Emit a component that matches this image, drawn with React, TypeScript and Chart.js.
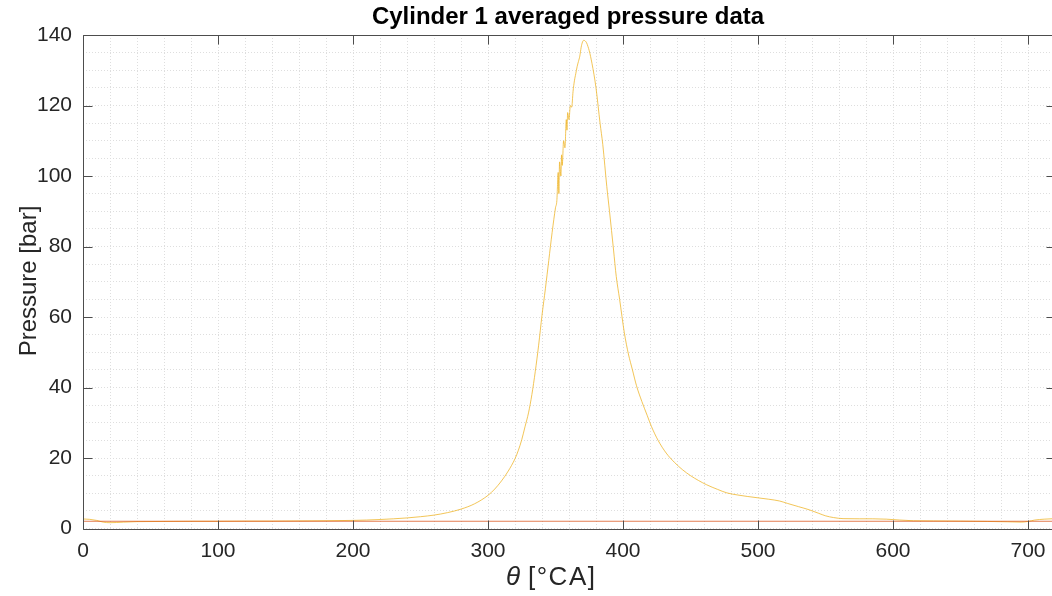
import React, { useEffect, useRef } from "react";
import { Chart, registerables } from "chart.js";

Chart.register(...registerables);

const TITLE = "Cylinder 1 averaged pressure data";
const Y_LABEL = "Pressure [bar]";
const X_LABEL_SYMBOL = "θ";
const X_LABEL_UNIT = "[°CA]";

const X_MIN = 0;
const X_MAX = 720;
const Y_MIN = 0;
const Y_MAX = 140;
const X_MAJOR = 100;
const X_MINOR = 20;
const Y_MAJOR = 20;
const Y_MINOR = 5;

// crank angle [°CA]
const theta = [
  0, 5, 10, 15, 20, 25, 30, 40, 60, 80, 100, 120, 140, 160, 180, 200, 210, 220, 230, 240,
  250, 260, 270, 280, 290, 300, 305, 310, 315, 320, 322.5, 325, 327.5, 330, 332.5, 335,
  337.5, 340, 342.5, 345, 347.5, 350,
  351, 352, 352.5, 353, 354, 354.5, 355, 356, 357, 358, 358.5, 359, 360, 361, 362, 363,
  364, 365, 366, 367, 368, 369, 370, 371, 372, 373, 374, 375, 377, 380, 383, 385, 388,
  390, 393, 395, 397.5, 401, 404, 407, 410, 414, 418, 421, 426, 432, 438, 444, 450, 456,
  462, 470, 477, 485, 492, 500, 508, 516, 522, 530, 538, 545, 550, 556, 563, 575, 585,
  595, 605, 615, 630, 650, 670, 685, 695, 700, 705, 712, 720,
];

// averaged cylinder pressure [bar]
const pressure = [
  2.7, 2.6, 2.3, 1.8, 1.65, 1.7, 1.8, 1.95, 2.0, 2.05, 2.05, 2.1, 2.1, 2.15, 2.2, 2.3, 2.4, 2.55, 2.75, 3.0,
  3.35, 3.8, 4.5, 5.5, 7.0, 9.4, 11.2, 13.5, 16.3, 19.8, 22.2, 25.2, 29, 32.8, 38, 44.5,
  52, 60.5, 68, 76, 84, 91,
  93, 101, 95, 104, 100, 106, 103, 110, 108, 116, 113, 118, 116, 120, 119.5, 124,
  127, 129, 131, 132.5, 134, 136.5, 138, 138.5, 138.3, 137.8, 136.8, 135.5, 132, 125, 115, 109, 97,
  90, 79, 71.5, 65, 55.5, 49.5, 45, 40.5, 36, 32, 29, 25, 21.4, 18.8, 16.7, 15, 13.6,
  12.4, 11.1, 10.1, 9.5, 9.1, 8.7, 8.3, 7.8, 7.1, 6.2, 5.3, 4.3, 3.6, 3.1, 2.8, 2.75, 2.75,
  2.65, 2.4, 2.2, 2.15, 2.1, 2.0, 1.9, 1.8, 2.0, 2.4, 2.65, 2.8,
];

// reference (intake) pressure line [bar]
const refTheta = [0, 720];
const refPressure = [2.05, 2.05];

const CURVE_COLOR = "rgba(237,177,32,0.75)";
const REF_COLOR = "rgba(217,83,25,0.75)";
const TEXT_COLOR = "#262626";
const FONT = "'Liberation Sans', Arial, Helvetica, sans-serif";

const overlayPlugin = {
  id: "matlabOverlay",
  afterDraw(chart: any) {
    const { ctx, chartArea } = chart;
    const xs = chart.scales.x;
    const ys = chart.scales.y;
    const l = Math.round(chartArea.left) + 0.5;
    const r = Math.round(chartArea.right) + 0.5;
    const t = Math.round(chartArea.top) + 0.5;
    const b = Math.round(chartArea.bottom) + 0.5;
    ctx.save();
    ctx.strokeStyle = "#4d4d4d";
    ctx.lineWidth = 1;
    ctx.beginPath();
    ctx.rect(l, t, r - l, b - t);
    ctx.stroke();
    const tl = 9;
    ctx.beginPath();
    for (let v = X_MIN; v <= X_MAX; v += X_MAJOR) {
      const px = Math.round(xs.getPixelForValue(v)) + 0.5;
      ctx.moveTo(px, b);
      ctx.lineTo(px, b - tl);
      ctx.moveTo(px, t);
      ctx.lineTo(px, t + tl);
    }
    for (let v = Y_MIN; v <= Y_MAX; v += Y_MAJOR) {
      const py = Math.round(ys.getPixelForValue(v)) + 0.5;
      ctx.moveTo(l, py);
      ctx.lineTo(l + tl, py);
      ctx.moveTo(r, py);
      ctx.lineTo(r - tl, py);
    }
    ctx.stroke();

    // title
    ctx.fillStyle = "#000";
    ctx.font = `bold 24px ${FONT}`;
    ctx.textAlign = "center";
    ctx.textBaseline = "middle";
    ctx.fillText(TITLE, 568, 17);

    // y label
    ctx.fillStyle = TEXT_COLOR;
    ctx.font = `24px ${FONT}`;
    ctx.save();
    ctx.translate(29, 281);
    ctx.rotate(-Math.PI / 2);
    ctx.textAlign = "center";
    ctx.textBaseline = "middle";
    ctx.fillText(Y_LABEL, 0, 0);
    ctx.restore();

    // x label: italic theta + unit
    ctx.textBaseline = "middle";
    ctx.textAlign = "left";
    ctx.font = `italic 26px ${FONT}`;
    ctx.fillText(X_LABEL_SYMBOL, 506, 578);
    ctx.font = `26px ${FONT}`;
    try {
      (ctx as any).letterSpacing = "1.5px";
    } catch (e) {}
    ctx.fillText(X_LABEL_UNIT, 528, 578);
    try {
      (ctx as any).letterSpacing = "0px";
    } catch (e) {}
    ctx.restore();
  },
};

export default function App() {
  const ref = useRef<HTMLCanvasElement | null>(null);

  useEffect(() => {
    if (!ref.current) return;
    const curve = theta.map((x, i) => ({ x, y: pressure[i] }));
    const refLine = refTheta.map((x, i) => ({ x, y: refPressure[i] }));
    const chart = new Chart(ref.current, {
      type: "line",
      data: {
        datasets: [
          {
            label: "reference",
            data: refLine,
            borderColor: REF_COLOR,
            borderWidth: 1,
            pointRadius: 0,
            tension: 0,
          },
          {
            label: "Cylinder 1",
            data: curve,
            borderColor: CURVE_COLOR,
            borderWidth: 1,
            pointRadius: 0,
            cubicInterpolationMode: "monotone",
          },
        ],
      },
      options: {
        animation: false,
        responsive: false,
        devicePixelRatio: 1,
        layout: { padding: { left: 0, right: 15, top: 35, bottom: 0 } },
        plugins: {
          legend: { display: false },
          title: { display: false },
          tooltip: { enabled: false },
        },
        scales: {
          x: {
            type: "linear",
            min: X_MIN,
            max: X_MAX,
            afterFit: (s: any) => {
              s.height = 67.5;
            },
            afterBuildTicks: (s: any) => {
              const arr = [];
              for (let v = X_MIN; v <= X_MAX; v += X_MINOR) arr.push({ value: v });
              s.ticks = arr;
            },
            ticks: {
              autoSkip: false,
              maxRotation: 0,
              padding: 10,
              color: TEXT_COLOR,
              font: { family: FONT, size: 21 },
              callback: (v: any) => (Number(v) % X_MAJOR === 0 ? String(v) : ""),
            },
            grid: { color: "#dedede", lineWidth: 1, drawTicks: false },
            border: { display: false, dash: [1, 2] },
          },
          y: {
            type: "linear",
            min: Y_MIN,
            max: Y_MAX,
            afterFit: (s: any) => {
              s.width = 83;
            },
            afterBuildTicks: (s: any) => {
              const arr = [];
              for (let v = Y_MIN; v <= Y_MAX; v += Y_MINOR) arr.push({ value: v });
              s.ticks = arr;
            },
            ticks: {
              autoSkip: false,
              padding: 11,
              color: TEXT_COLOR,
              font: { family: FONT, size: 21 },
              callback: (v: any) => (Number(v) % Y_MAJOR === 0 ? String(v) : ""),
            },
            grid: { color: "#dedede", lineWidth: 1, drawTicks: false },
            border: { display: false, dash: [1, 2] },
          },
        },
      },
      plugins: [overlayPlugin],
    });
    return () => chart.destroy();
  }, []);

  return (
    <div
      style={{
        position: "fixed",
        left: 0,
        top: 0,
        width: 1052,
        height: 596,
        overflow: "hidden",
        background: "#fff",
      }}
    >
      <canvas ref={ref} width={1070} height={596} style={{ display: "block", width: 1070, height: 596 }} />
    </div>
  );
}
